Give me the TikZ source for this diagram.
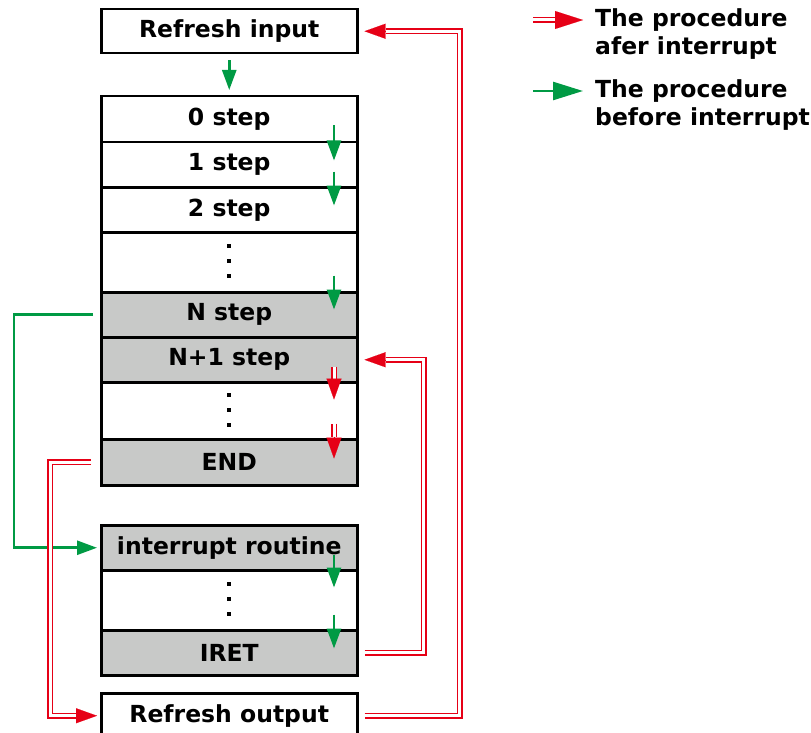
\documentclass[tikz,border=0pt]{standalone}
\usepackage{fontspec}
\setmainfont{DejaVu Sans}
\usetikzlibrary{arrows.meta,calc}
\definecolor{gr}{RGB}{0,154,68}
\definecolor{rd}{RGB}{230,0,22}
\definecolor{cellgrey}{RGB}{200,201,200}
\newcommand\lbl{\fontsize{23.5}{28}\selectfont\bfseries}
\tikzset{
  cell/.style={draw, line width=2.5pt, minimum width=256pt, inner sep=0pt, font=\lbl, anchor=north west},
  greycell/.style={cell, fill=cellgrey},
  garrow/.style={draw=gr, line width=2.6pt, -{Triangle[length=20pt,width=14pt]}},
  rdbl/.style={draw=rd, double=white, double distance=3pt, line width=1.5pt},
  rhead/.style={draw=rd, line width=0.1pt, -{Triangle[length=21pt,width=15pt]}},
  legtext/.style={font=\lbl, align=left, anchor=west, inner sep=0pt}
}
\begin{document}
\begin{tikzpicture}[x=1pt,y=-1pt]
\useasboundingbox (0,0) rectangle (811,733);
% boxes
\node[cell, minimum height=44pt] (rin) at (100,8) {Refresh input};
\node[cell, minimum height=46pt] (s0) at (100,95) {0 step};
\node[cell, minimum height=45pt] (s1) at (100,141) {1 step};
\node[cell, minimum height=45pt] (s2) at (100,186) {2 step};
\node[cell, minimum height=60pt] (d1) at (100,231) {};
\node[greycell, minimum height=45pt] (sN) at (100,291) {N step};
\node[greycell, minimum height=45pt] (sN1) at (100,336) {N+1 step};
\node[cell, minimum height=57pt] (d2) at (100,381) {};
\node[greycell, minimum height=46pt] (end) at (100,438) {END};
\node[greycell, minimum height=45pt] (ir) at (100,524) {interrupt routine};
\node[cell, minimum height=60pt] (d3) at (100,569) {};
\node[greycell, minimum height=45pt] (iret) at (100,629) {IRET};
\node[cell, minimum height=45pt] (rout) at (100,692) {Refresh output};
% vertical dots
\foreach \d in {d1,d2,d3}{
  \foreach \o in {-16,-1,14}{
    \fill ($(\d.center)+(-2,\o-2)$) rectangle +(4,4);
  }
}
% green arrows (before interrupt)
\draw[garrow] ([yshift=-6pt]rin.south) -- ([yshift=5pt]s0.north);
\draw[garrow] ($(s0.south west)+(234,-18)$) -- ($(s0.south west)+(234,17)$);
\draw[garrow] ($(s1.south west)+(234,-17)$) -- ($(s1.south west)+(234,17)$);
\draw[garrow] ($(d1.south west)+(234,-18)$) -- ($(d1.south west)+(234,16)$);
\draw[garrow] ($(ir.south west)+(234,-17)$) -- ($(ir.south west)+(234,16)$);
\draw[garrow] ($(d3.south west)+(234,-17)$) -- ($(d3.south west)+(234,17)$);
% green jump N step -> interrupt routine
\draw[garrow] ([xshift=-7pt]sN.west) -- ++(-79,0) |- ([xshift=-3pt]ir.west);
% red double arrows inside (after interrupt)
\coordinate (ra1) at ($(sN1.south west)+(234,-17)$);
\coordinate (ra1b) at ($(sN1.south west)+(234,-4)$);
\coordinate (ra1t) at ($(sN1.south west)+(234,16)$);
\draw[rdbl] (ra1) -- (ra1b);
\draw[rhead] (ra1b) -- (ra1t);
\coordinate (ra2) at ($(d2.south west)+(234,-17)$);
\coordinate (ra2b) at ($(d2.south west)+(234,-4)$);
\coordinate (ra2t) at ($(d2.south west)+(234,18)$);
\draw[rdbl] (ra2) -- (ra2b);
\draw[rhead] (ra2b) -- (ra2t);
% IRET -> N+1 step
\draw[rdbl] ([xshift=6pt]iret.east) -- ++(59,0) |- ([xshift=27pt]sN1.east);
\draw[rhead] ([xshift=27pt]sN1.east) -- ([xshift=6pt]sN1.east);
% END -> Refresh output
\draw[rdbl] ([xshift=-9pt]end.west) -- ++(-41,0) |- ([xshift=-23pt]rout.west);
\draw[rhead] ([xshift=-23pt]rout.west) -- ([xshift=-3pt]rout.west);
% Refresh output -> Refresh input
\draw[rdbl] ([xshift=6pt]rout.east) -- ++(95,0) |- ([xshift=27pt]rin.east);
\draw[rhead] ([xshift=27pt]rin.east) -- ([xshift=6pt]rin.east);
% legend
\coordinate (lr0) at (533,20);
\coordinate (lr1) at (555,20);
\coordinate (lr2) at (583,20);
\draw[rdbl] (lr0) -- (lr1);
\draw[draw=rd, line width=0.1pt, -{Triangle[length=28pt,width=18pt]}] (lr1) -- (lr2);
\coordinate (lg0) at (533,91);
\coordinate (lg2) at (583,91);
\draw[draw=gr, line width=2.6pt, -{Triangle[length=30pt,width=18pt]}] (lg0) -- (lg2);
\node[legtext] (l1) at (595,34) {The procedure\\afer interrupt};
\node[legtext] (l2) at (595,105) {The procedure\\before interrupt};
\end{tikzpicture}
\end{document}
